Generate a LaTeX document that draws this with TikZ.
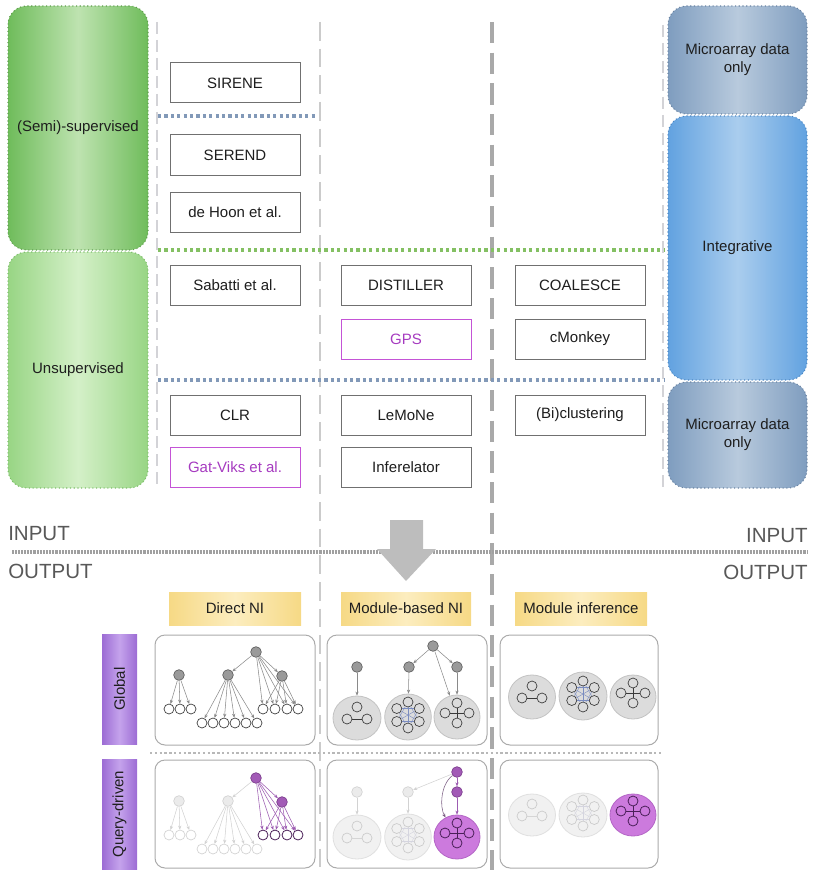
\documentclass[tikz,border=0pt]{standalone}
\usepackage{fontspec}
\usepackage{graphicx}
\setmainfont{Liberation Sans}
\usetikzlibrary{arrows.meta,shapes.geometric}

% palette
\definecolor{ink}{HTML}{1E1E1E}
\definecolor{frame}{HTML}{707070}
\definecolor{violet}{HTML}{A63BC0}
\definecolor{violetframe}{HTML}{C453D6}
\definecolor{greenA}{HTML}{6FBC5B}
\definecolor{greenAmid}{HTML}{BEE3B0}
\definecolor{greenAline}{HTML}{5E9E4C}
\definecolor{greenB}{HTML}{98D584}
\definecolor{greenBmid}{HTML}{D4F0C8}
\definecolor{greenBline}{HTML}{7DBE6A}
\definecolor{steel}{HTML}{7F9DBF}
\definecolor{steelmid}{HTML}{B8CADD}
\definecolor{steelline}{HTML}{6B84A2}
\definecolor{sky}{HTML}{62A2E0}
\definecolor{skymid}{HTML}{AACDEE}
\definecolor{skyline}{HTML}{4C86C2}
\definecolor{sepblue}{HTML}{8299B8}
\definecolor{sepgreen}{HTML}{84C063}
\definecolor{honey}{HTML}{F6D985}
\definecolor{honeymid}{HTML}{FCEDBF}
\definecolor{lilac}{HTML}{9C6CD4}
\definecolor{lilacmid}{HTML}{C5A3EC}
\definecolor{iotext}{HTML}{585858}
\definecolor{hubfill}{HTML}{9A9A9A}
\definecolor{hubline}{HTML}{5F5F5F}
\definecolor{leafline}{HTML}{3A3A3A}
\definecolor{linkc}{HTML}{8A8A8A}
\definecolor{fadefill}{HTML}{EBEBEB}
\definecolor{fadeline}{HTML}{D2D2D2}
\definecolor{plum}{HTML}{A25AB6}
\definecolor{plumline}{HTML}{7B3C8C}
\definecolor{plumdark}{HTML}{4A1F58}
\definecolor{plumlink}{HTML}{9D5CB2}
\definecolor{curvelink}{HTML}{785A80}
\definecolor{orchid}{HTML}{CC7ADD}
\definecolor{orchidline}{HTML}{B466C6}
\definecolor{modfill}{HTML}{DCDCDC}
\definecolor{modline}{HTML}{C3C3C3}
\definecolor{fmodfill}{HTML}{F1F1F1}
\definecolor{fmodline}{HTML}{E0E0E0}
\definecolor{fcircle}{HTML}{CACACA}
\definecolor{fline}{HTML}{D5D5D5}
\definecolor{fhexline}{HTML}{D5D5DF}
\definecolor{hexlink}{HTML}{7A8CC0}
\definecolor{panelline}{HTML}{ABABAB}
\definecolor{arrowgray}{HTML}{BDBDBD}
\definecolor{ruleA}{HTML}{D3D3D7}
\definecolor{ruleB}{HTML}{CBCBCB}
\definecolor{ruleC}{HTML}{A9A9A9}
\definecolor{iorule}{HTML}{A0A0A0}
\definecolor{rowrule}{HTML}{B8B8B8}

\tikzset{
  method/.style={draw=frame, line width=0.75pt, fill=white, text=ink,
    minimum width=97.5pt, minimum height=30pt, inner sep=0pt},
  querymethod/.style={method, draw=violetframe, text=violet},
  category/.style={rounded corners=14pt, line width=0.8pt, dotted, text=ink,
    align=center, inner sep=0pt},
  thinrule/.style={draw=ruleA, line width=1.2pt, dash pattern=on 9pt off 4.5pt},
  midrule/.style={draw=ruleB, line width=2pt, dash pattern=on 14pt off 6pt},
  boldrule/.style={draw=ruleC, line width=2.4pt, dash pattern=on 16pt off 7pt},
  levelrule/.style={draw=#1, line width=2.6pt, dash pattern=on 2.4pt off 2.4pt},
  header/.style={left color=honey, right color=honey, middle color=honeymid,
    minimum height=24.75pt, inner sep=0pt, text=ink},
  rowbox/.style={left color=lilac, right color=lilac, middle color=lilacmid,
    minimum width=26.25pt, inner sep=0pt, text=ink},
  panel/.style={draw=panelline, line width=0.75pt, rounded corners=7.5pt, fill=white},
  iolabel/.style={text=iotext, font=\fontsize{15.4pt}{18pt}\selectfont, inner sep=0pt},
  % network pieces
  hub/.style={circle, fill=hubfill, draw=hubline, line width=0.5pt, minimum size=8pt, inner sep=0pt},
  fhub/.style={hub, fill=fadefill, draw=fadeline},
  phub/.style={hub, fill=plum, draw=plumline},
  leaf/.style={circle, fill=white, draw=leafline, line width=0.5pt, minimum size=7.5pt, inner sep=0pt},
  fleaf/.style={leaf, draw=fadeline},
  pleaf/.style={leaf, draw=plumdark, line width=0.6pt},
  link/.style={draw=linkc, line width=0.4pt, -{Stealth[length=3pt,width=2.4pt]}},
  flink/.style={link, draw=fadeline},
  plink/.style={link, draw=plumlink},
  module/.style={ellipse, draw=modline, fill=modfill, line width=0.6pt, inner sep=0pt},
  fmodule/.style={module, draw=fmodline, fill=fmodfill},
  pmodule/.style={module, draw=orchidline, fill=orchid},
  mc/.style={circle, draw=leafline, line width=0.5pt, minimum size=7.5pt, inner sep=0pt},
  ml/.style={draw=leafline, line width=0.4pt},
  hl/.style={draw=hexlink, line width=0.3pt},
  % module interiors
  tri/.pic={
    \node[mc] (-a) at (0,-11) {};
    \node[mc] (-b) at (-10,1) {};
    \node[mc] (-c) at (10,1) {};
    \draw[ml] (-b) -- (-c);
  },
  hex/.pic={
    \foreach \k/\a in {1/90,2/30,3/-30,4/-90,5/-150,6/150}
      \node[mc] (-\k) at ({13*cos(\a)},{-2-13*sin(\a)}) {};
    \foreach \i/\j in {1/3,1/4,1/5,2/4,2/5,2/6,3/5,3/6,4/6}
      \draw[hl] (-\i) -- (-\j);
  },
  cross/.pic={
    \node[mc] (-t) at (0,-14) {};
    \node[mc] (-b) at (0,6) {};
    \node[mc] (-l) at (-12,-4) {};
    \node[mc] (-r) at (12,-4) {};
    \draw[ml] (-l) -- (-r);
    \draw[ml] (-t) -- (-b);
  },
  faded/.style={mc/.style={circle, draw=fcircle, line width=0.5pt, minimum size=7.5pt, inner sep=0pt},
    ml/.style={draw=fline, line width=0.4pt},
    hl/.style={draw=fhexline, line width=0.3pt}},
  picked/.style={mc/.style={circle, draw=plumdark, line width=0.6pt, minimum size=7.5pt, inner sep=0pt},
    ml/.style={draw=plumdark, line width=0.45pt}},
}

\begin{document}
\begin{tikzpicture}[x=0.75pt, y=-0.75pt, font=\fontsize{11.25pt}{13.5pt}\selectfont]
\useasboundingbox (0,0) rectangle (814,870);

% ---------- column separators ----------
\draw[thinrule] (157,22) -- (157,488);
\draw[midrule] (320,22) -- (320,870);
\draw[boldrule] (492,22) -- (492,870);
\draw[thinrule] (663,25) -- (663,488);

% ---------- supervision classes ----------
\node[category, draw=greenAline, left color=greenA, right color=greenA, middle color=greenAmid,
  minimum width=105pt, minimum height=183pt] (semi) at (78,128) {(Semi)-supervised};
\node[category, draw=greenBline, left color=greenB, right color=greenB, middle color=greenBmid,
  minimum width=105pt, minimum height=177pt] (unsup) at (78,370) {Unsupervised};

% ---------- data classes ----------
\node[category, draw=steelline, left color=steel, right color=steel, middle color=steelmid,
  minimum width=104.25pt, minimum height=81pt] (arrTop) at (737.5,60) {Microarray data\\only};
\node[category, draw=skyline, left color=sky, right color=sky, middle color=skymid,
  minimum width=104.25pt, minimum height=198pt] (integ) at (737.5,248) {Integrative};
\node[category, draw=steelline, left color=steel, right color=steel, middle color=steelmid,
  minimum width=104.25pt, minimum height=79.5pt] (arrBot) at (737.5,435) {Microarray data\\only};

% ---------- level separators ----------
\draw[levelrule=sepblue] (158,116) -- (316,116);
\draw[levelrule=sepgreen] (158,250) -- (665,250);
\draw[levelrule=sepblue] (158,380) -- (665,380);

% ---------- methods ----------
\node[method] (sirene) at (235,83) {SIRENE};
\node[method] (serend) at (235,155) {SEREND};
\node[method] (dehoon) at (235,212) {de Hoon et al.};
\node[method] (sabatti) at (235,285) {Sabatti et al.};
\node[method] (clr) at (235,415) {CLR};
\node[querymethod] (gatviks) at (235,467) {Gat-Viks et al.};
\node[method] (distiller) at (406,285) {DISTILLER};
\node[querymethod] (gps) at (406,339) {GPS};
\node[method] (lemone) at (406,415) {LeMoNe};
\node[method] (inferelator) at (406,467) {Inferelator};
\node[method] (coalesce) at (580,285) {COALESCE};
\node[method] (cmonkey) at (580,339) {cMonkey};
\node[method] (biclust) at (580,415) {(Bi)clustering};

% ---------- input / output divide ----------
\draw[draw=iorule, line width=2.6pt, dash pattern=on 0.5pt off 0.6pt] (12,552) -- (808,552);
\node[iolabel, anchor=west] (inL) at (8,533.5) {INPUT};
\node[iolabel, anchor=west] (outL) at (8,571.5) {OUTPUT};
\node[iolabel, anchor=east] (inR) at (808,535.5) {INPUT};
\node[iolabel, anchor=east] (outR) at (808,572.5) {OUTPUT};
\fill[arrowgray] (390,520) -- (423,520) -- (423,549) -- (436,549) -- (406,581)
  -- (377,549) -- (390,549) -- cycle;

% ---------- output headers ----------
\node[header, minimum width=99pt] (hdirect) at (235,608.5) {Direct NI};
\node[header, minimum width=97.5pt] (hmodnet) at (406,608.5) {Module-based NI};
\node[header, minimum width=99pt] (hmodinf) at (581,608.5) {Module inference};

\node[rowbox, minimum height=82.5pt] (global) at (119.5,689) {\rotatebox{90}{Global}};
\node[rowbox, minimum height=82.5pt] (query) at (119.5,814) {\rotatebox{90}{Query-driven}};

\draw[draw=rowrule, line width=2.2pt, dash pattern=on 1.8pt off 1.8pt] (150,753) -- (662,753);

\draw[panel] (155,635) rectangle (315,745);
\draw[panel] (327,635) rectangle (487,745);
\draw[panel] (500,635) rectangle (658,745);
\draw[panel] (155,760) rectangle (315,868);
\draw[panel] (327,760) rectangle (487,868);
\draw[panel] (500,760) rectangle (658,868);

% ---------- direct NI, global ----------
\node[hub] (dR) at (256,652) {};
\node[hub] (dA) at (179,675) {};
\node[hub] (dB) at (228,675) {};
\node[hub] (dC) at (282,676) {};
\foreach \i/\x in {1/169,2/180,3/191} \node[leaf] (dA\i) at (\x,709) {};
\foreach \i/\x in {1/202,2/213,3/224,4/235,5/246,6/257} \node[leaf] (dB\i) at (\x,723) {};
\foreach \i/\x in {1/263,2/275,3/287,4/298} \node[leaf] (dC\i) at (\x,709) {};
\draw[link] (dR) -- (dB);
\draw[link] (dR) -- (dC);
\foreach \i in {1,...,4} {\draw[link] (dR) -- (dC\i); \draw[link] (dC) -- (dC\i);}
\foreach \i in {1,2,3} \draw[link] (dA) -- (dA\i);
\foreach \i in {1,...,6} \draw[link] (dB) -- (dB\i);

% ---------- direct NI, query-driven ----------
\node[phub] (qR) at (256,778) {};
\node[fhub] (qA) at (179,801) {};
\node[fhub] (qB) at (228,801) {};
\node[phub] (qC) at (282,802) {};
\foreach \i/\x in {1/169,2/180,3/191} \node[fleaf] (qA\i) at (\x,835) {};
\foreach \i/\x in {1/202,2/213,3/224,4/235,5/246,6/257} \node[fleaf] (qB\i) at (\x,849) {};
\foreach \i/\x in {1/263,2/275,3/287,4/298} \node[pleaf] (qC\i) at (\x,835) {};
\draw[flink] (qR) -- (qB);
\foreach \i in {1,2,3} \draw[flink] (qA) -- (qA\i);
\foreach \i in {1,...,6} \draw[flink] (qB) -- (qB\i);
\draw[plink] (qR) -- (qC);
\foreach \i in {1,...,4} {\draw[plink] (qR) -- (qC\i); \draw[plink] (qC) -- (qC\i);}

% ---------- module-based NI, global ----------
\node[module, minimum width=36pt, minimum height=33pt] (mE1) at (357,718) {};
\node[module, minimum width=35pt, minimum height=34.5pt] (mE2) at (408,717) {};
\node[module, minimum width=34.5pt, minimum height=33pt] (mE3) at (457,717) {};
\pic (mE1c) at (357,718) {tri};
\pic (mE2c) at (408,717) {hex};
\pic (mE3c) at (457,717) {cross};
\node[hub] (mL) at (357,667) {};
\node[hub] (mM) at (409,667) {};
\node[hub] (mR) at (457,667) {};
\node[hub] (mT) at (433,646) {};
\draw[link] (mL) -- (mE1);
\draw[link] (mM) -- (mE2);
\draw[link] (mT) -- (mM);
\draw[link] (mT) -- (mR);
\draw[link] (mT) -- (mE3);
\draw[link] (mR) -- (mE3);

% ---------- module-based NI, query-driven ----------
\node[fmodule, minimum width=36pt, minimum height=33pt] (nE1) at (357,837) {};
\node[fmodule, minimum width=35pt, minimum height=34.5pt] (nE2) at (408,837) {};
\node[pmodule, minimum width=34.5pt, minimum height=33pt] (nE3) at (457,837) {};
\begin{scope}[faded]
  \pic (nE1c) at (357,837) {tri};
  \pic (nE2c) at (408,837) {hex};
\end{scope}
\begin{scope}[picked]
  \pic (nE3c) at (457,837) {cross};
\end{scope}
\node[phub] (nP1) at (457,772) {};
\node[phub] (nP2) at (457,792) {};
\node[fhub] (nL) at (357,792) {};
\node[fhub] (nM) at (408,792) {};
\draw[flink] (nP1) -- (nM);
\draw[flink] (nL) -- (nE1);
\draw[flink] (nM) -- (nE2);
\draw[plink] (nP1) -- (nP2);
\draw[plink] (nP2) -- (nE3);
\draw[link, draw=curvelink] (nP1) .. controls (440,785) and (440,808) .. (nE3);

% ---------- module inference, global ----------
\node[module, minimum width=35.25pt, minimum height=33pt] (iE1) at (532,697) {};
\node[module, minimum width=36pt, minimum height=36pt] (iE2) at (583,696) {};
\node[module, minimum width=34.5pt, minimum height=33pt] (iE3) at (633,697) {};
\pic (iE1c) at (532,697) {tri};
\pic (iE2c) at (583,696) {hex};
\pic (iE3c) at (633,697) {cross};

% ---------- module inference, query-driven ----------
\node[fmodule, minimum width=35.25pt, minimum height=31.5pt] (jE1) at (532,815) {};
\node[fmodule, minimum width=36pt, minimum height=33pt] (jE2) at (583,815) {};
\node[pmodule, minimum width=34.5pt, minimum height=31.5pt] (jE3) at (633,815) {};
\begin{scope}[faded]
  \pic (jE1c) at (532,815) {tri};
  \pic (jE2c) at (583,815) {hex};
\end{scope}
\begin{scope}[picked]
  \pic (jE3c) at (633,815) {cross};
\end{scope}

\end{tikzpicture}
\end{document}
